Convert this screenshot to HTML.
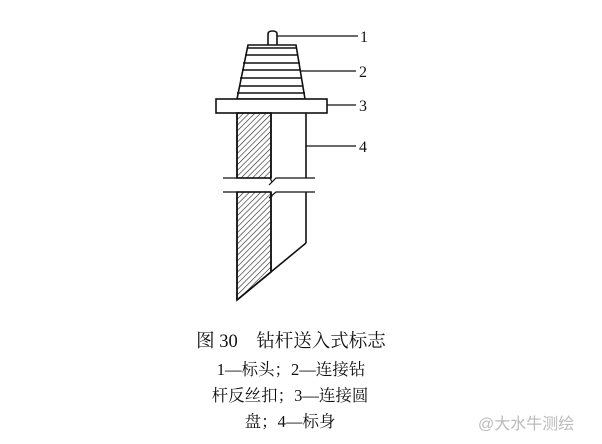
<!DOCTYPE html>
<html><head><meta charset="utf-8"><style>
body{margin:0;width:602px;height:444px;background:#fff;overflow:hidden;position:relative;font-family:"Liberation Serif","Noto Serif CJK SC",serif;}
.t{position:absolute;left:0;width:602px;text-align:center;color:#111;white-space:nowrap;}
</style></head><body>
<svg width="602" height="444" style="position:absolute;left:0;top:0">
<defs><pattern id="h" width="4" height="4" patternUnits="userSpaceOnUse" patternTransform="rotate(45)"><line x1="0" y1="0" x2="0" y2="4" stroke="#222" stroke-width="1.2"/></pattern></defs>
<g stroke="#111" stroke-width="1.6" fill="none">
<path d="M268,45 V34 Q268,31 272.5,31 Q277,31 277,34 V45" fill="#fff"/>
<polygon points="248,45 296,45 305,99 237,99" fill="#fff"/>
<line x1="247" y1="48" x2="296" y2="48"/><line x1="245" y1="55" x2="298" y2="55"/><line x1="243" y1="63" x2="300" y2="63"/><line x1="242" y1="70" x2="301" y2="70"/><line x1="240" y1="78" x2="302" y2="78"/><line x1="239" y1="86" x2="303" y2="86"/><line x1="237" y1="93" x2="305" y2="93"/>
<rect x="216" y="99" width="111" height="14" fill="#fff"/>
<polygon points="237,113 271,113 271,178 237,178" fill="url(#h)"/>
<polygon points="237,192 271,192 271,272 237,300" fill="url(#h)"/>
<line x1="237" y1="113" x2="237" y2="178"/><line x1="237" y1="192" x2="237" y2="300"/>
<line x1="271" y1="113" x2="271" y2="178"/><line x1="271" y1="192" x2="271" y2="272"/>
<line x1="306" y1="113" x2="306" y2="178"/><line x1="306" y1="192" x2="306" y2="243"/>
<line x1="237" y1="300" x2="306" y2="243"/>
<polyline points="223,178 270,178 272,182 269,185 276,178 315,178" stroke-width="1.2"/>
<polyline points="223,192 270,192 272,196 269,198 276,192 315,192" stroke-width="1.2"/>
<g stroke-width="1.2"><line x1="277" y1="36" x2="358" y2="36"/><line x1="300" y1="71" x2="356" y2="71"/><line x1="327" y1="105" x2="356" y2="105"/><line x1="306" y1="146" x2="356" y2="146"/></g>
</g>
<g font-family="Liberation Serif,serif" font-size="16" fill="#111">
<text x="360" y="42">1</text><text x="359" y="77">2</text><text x="359" y="111">3</text><text x="359" y="152">4</text>
</g>
</svg>
<div class="t" style="top:327px;font-size:18.5px;left:-10px">图 30　钻杆送入式标志</div>
<div class="t" style="top:356px;font-size:16.5px;left:-10px">1—标头；2—连接钻</div>
<div class="t" style="top:382px;font-size:16.5px;left:-11px">杆反丝扣；3—连接圆</div>
<div class="t" style="top:408px;font-size:16.5px;left:-11px">盘；4—标身</div>
<div style="position:absolute;left:478px;top:410px;font-size:16px;color:#bbb;font-family:'Liberation Sans','Noto Sans CJK SC',sans-serif">@大水牛测绘</div>
</body></html>
